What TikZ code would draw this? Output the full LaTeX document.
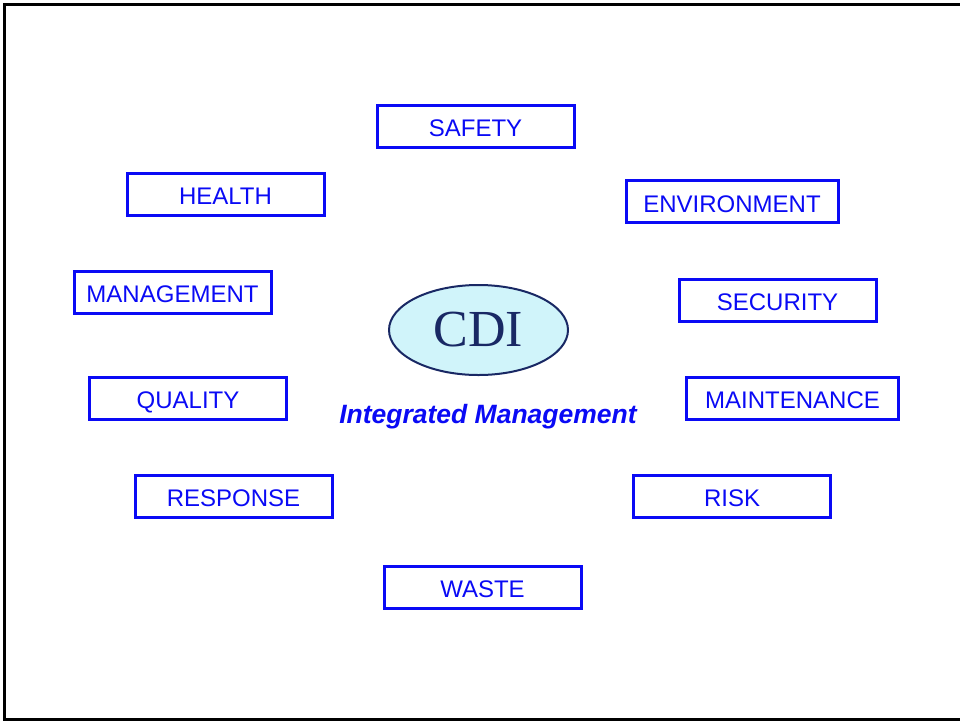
\documentclass[tikz,border=0pt]{standalone}
\usepackage{fontspec}
\setmainfont{Liberation Sans}
\newfontfamily\cdiserif{Liberation Serif}
\usetikzlibrary{shapes.geometric}
\definecolor{boxblue}{RGB}{10,10,245}
\definecolor{cdinavy}{RGB}{25,40,100}
\definecolor{cdifill}{RGB}{208,244,250}
\tikzset{
  topic/.style={draw=boxblue, line width=3pt, text=boxblue, minimum width=197pt, minimum height=42pt, inner sep=0pt, text height=21pt, text depth=0pt, font=\fontsize{24}{28}\selectfont},
  wide/.style={topic, minimum width=212pt}
}
\begin{document}
\begin{tikzpicture}[x=1pt,y=-1pt]
\useasboundingbox (0,0) rectangle (960,721);
\draw[line width=3pt] (960,4) -- (4,4) -- (4,719) -- (960,719);

\node[topic] (safety) at (475.5,126){SAFETY};
\node[topic] (health) at (225.5,194){HEALTH};
\node[wide] (environment) at (732,201.5){ENVIRONMENT};
\node[topic] (management) at (172.5,292){MANAGEMENT};
\node[topic] (security) at (777.5,300){SECURITY};
\node[topic] (quality) at (188,398){QUALITY};
\node[wide] (maintenance) at (792.5,398){MAINTENANCE};
\node[topic] (response) at (233.5,496){RESPONSE};
\node[topic] (risk) at (732,496){RISK};
\node[topic] (waste) at (482.5,587){WASTE};

\node[ellipse, draw=cdinavy, fill=cdifill, line width=2pt, minimum width=179pt, minimum height=90pt, text=cdinavy, font=\cdiserif\fontsize{52}{56}\selectfont] (cdi) at (478.5,330){CDI};
\node[text=boxblue, font=\bfseries\itshape\fontsize{26.5}{30}\selectfont] (integrated) at (488,416.5){Integrated Management};

\end{tikzpicture}
\end{document}
